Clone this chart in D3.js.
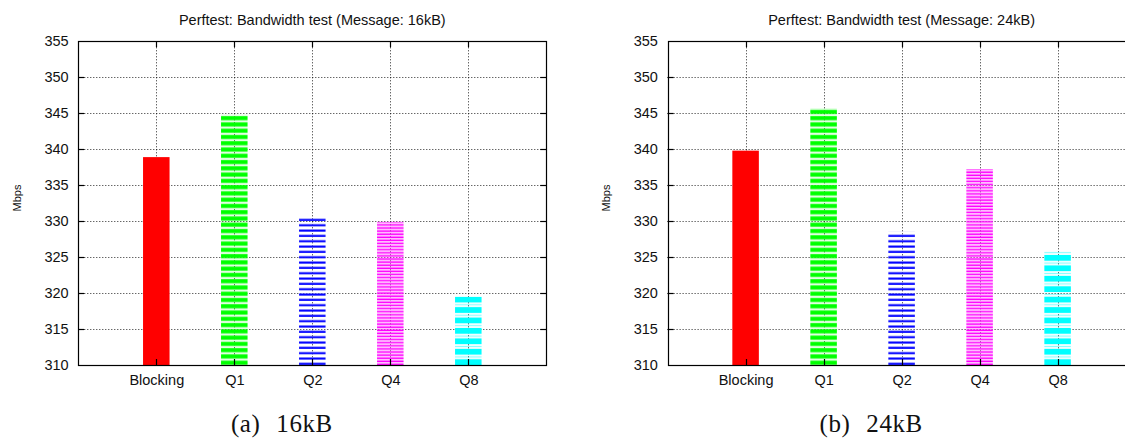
<!DOCTYPE html>
<html>
<head>
<meta charset="utf-8">
<script src="https://cdn.jsdelivr.net/npm/d3@7"></script>
<style>
  html, body { margin: 0; padding: 0; background: #fff; }
  svg { display: block; }
  .sans { font-family: "Liberation Sans", Arial, Helvetica, sans-serif; fill: #111; }
  .cap { font-family: "Liberation Serif", "Times New Roman", serif; fill: #111; }
</style>
</head>
<body>
<svg id="fig" width="1125" height="439"></svg>
<script>
// Perftest bandwidth results, Mbps per queueing mode
const categories = ["Blocking", "Q1", "Q2", "Q4", "Q8"];
const bandwidth16kB = [338.9, 344.8, 330.7, 329.9, 319.5];
const bandwidth24kB = [339.8, 345.7, 328.5, 337.2, 325.8];
const yTicks = [310, 315, 320, 325, 330, 335, 340, 345, 350, 355];
const titles = ["Perftest: Bandwidth test (Message: 16kB)", "Perftest: Bandwidth test (Message: 24kB)"];
const captions = ["(a) 16kB", "(b) 24kB"];
const yLabel = "Mbps";

const svg = d3.select("#fig");
const defs = svg.append("defs");

const plotTop = 41.3, plotBottom = 365, plotW = 468;
const fontSize = 14.5;

// Fill patterns (horizontal hatching), anchored on the x axis line
function stripePattern(id, period, layers) {
  const p = defs.append("pattern")
    .attr("id", id)
    .attr("patternUnits", "userSpaceOnUse")
    .attr("x", 0).attr("y", plotBottom)
    .attr("width", 20).attr("height", period);
  layers.forEach(l => {
    p.append("rect").attr("x", 0).attr("width", 20)
      .attr("y", l.y).attr("height", l.h)
      .attr("fill", l.c).attr("fill-opacity", l.o == null ? 1 : l.o);
  });
  return "url(#" + id + ")";
}

const fills = [
  "#ff0000",
  stripePattern("pat-q1", 6.27, [
    { y: 0, h: 6.27, c: "#00ff00", o: 0.12 },
    { y: 1.97, h: 4.0, c: "#00ff00" }
  ]),
  stripePattern("pat-q2", 5.33, [
    { y: 2.85, h: 2.48, c: "#7070ff", o: 0.7 },
    { y: 3.33, h: 1.8, c: "#0000ff" }
  ]),
  stripePattern("pat-q4", 3.1, [
    { y: 0, h: 3.1, c: "#ff66ff", o: 0.45 },
    { y: 1.9, h: 1.2, c: "#ff00ff" }
  ]),
  stripePattern("pat-q8", 10.43, [
    { y: 0, h: 10.43, c: "#00ffff", o: 0.06 },
    { y: 1.9, h: 0.9, c: "#00ffff", o: 0.45 },
    { y: 4.73, h: 5.7, c: "#00ffff" }
  ])
];

function drawChart(left, values, title, caption) {
  const g = svg.append("g");
  const x = d3.scaleLinear().domain([-1, 5]).range([left, left + plotW]);
  const y = d3.scaleLinear().domain([310, 355]).range([plotBottom, plotTop]);
  const barW = 0.34;

  // dotted grid
  const grid = g.append("g")
    .attr("stroke", "#000").attr("stroke-width", 1)
    .attr("stroke-dasharray", "1,2").attr("stroke-opacity", 0.85);
  grid.selectAll("line.h").data(yTicks.slice(1, -1)).join("line")
    .attr("x1", x(-1)).attr("x2", x(5))
    .attr("y1", d => Math.round(y(d)) + 0.5).attr("y2", d => Math.round(y(d)) + 0.5);
  grid.selectAll("line.v").data(d3.range(categories.length)).join("line")
    .attr("x1", d => Math.round(x(d)) + 0.5).attr("x2", d => Math.round(x(d)) + 0.5)
    .attr("y1", plotTop).attr("y2", plotBottom);

  // bars
  g.append("g").selectAll("rect").data(values).join("rect")
    .attr("x", (d, i) => x(i - barW / 2))
    .attr("width", x(barW) - x(0))
    .attr("y", d => y(d))
    .attr("height", d => y(310) - y(d))
    .attr("fill", (d, i) => fills[i]);

  // frame
  g.append("rect")
    .attr("x", Math.round(x(-1)) + 0.5).attr("y", Math.round(plotTop) + 0.5)
    .attr("width", plotW).attr("height", plotBottom - Math.round(plotTop))
    .attr("fill", "none").attr("stroke", "#000").attr("stroke-width", 1.2);

  // inward tick marks on all four sides
  const tk = g.append("g").attr("stroke", "#000").attr("stroke-width", 1.2);
  const tl = 6;
  tk.selectAll("line.l").data(yTicks.slice(1, -1)).join("line")
    .attr("x1", x(-1)).attr("x2", x(-1) + tl)
    .attr("y1", d => Math.round(y(d)) + 0.5).attr("y2", d => Math.round(y(d)) + 0.5);
  tk.selectAll("line.r").data(yTicks.slice(1, -1)).join("line")
    .attr("x1", x(5)).attr("x2", x(5) - tl)
    .attr("y1", d => Math.round(y(d)) + 0.5).attr("y2", d => Math.round(y(d)) + 0.5);
  tk.selectAll("line.b").data(d3.range(categories.length)).join("line")
    .attr("x1", d => Math.round(x(d)) + 0.5).attr("x2", d => Math.round(x(d)) + 0.5)
    .attr("y1", plotBottom).attr("y2", plotBottom - tl);
  tk.selectAll("line.t").data(d3.range(categories.length)).join("line")
    .attr("x1", d => Math.round(x(d)) + 0.5).attr("x2", d => Math.round(x(d)) + 0.5)
    .attr("y1", plotTop).attr("y2", plotTop + tl);

  // y tick labels
  const ya = g.append("g").attr("transform", `translate(${x(-1)},0)`)
    .call(d3.axisLeft(y).tickValues(yTicks).tickSize(0).tickPadding(9.7).tickFormat(d3.format("d")));
  ya.select(".domain").remove();
  ya.selectAll("text").attr("class", "sans").style("font-size", fontSize + "px");

  // category labels
  const xa = g.append("g").attr("transform", `translate(0,${plotBottom})`)
    .call(d3.axisBottom(x).tickValues(d3.range(categories.length)).tickSize(0).tickFormat(i => categories[i]));
  xa.select(".domain").remove();
  xa.selectAll("text").attr("class", "sans").attr("y", 20).attr("dy", null)
    .style("font-size", fontSize + "px");

  // title
  g.append("text").attr("class", "sans")
    .attr("x", x(2)).attr("y", 25).attr("text-anchor", "middle")
    .style("font-size", fontSize + "px").text(title);

  // y axis label
  g.append("text").attr("class", "sans")
    .attr("transform", `translate(${left - 57.7},198) rotate(-90)`)
    .attr("text-anchor", "middle").style("font-size", "11px").text(yLabel);

  // sub-figure caption
  g.append("text").attr("class", "cap")
    .attr("x", left + 203.6).attr("y", 432).attr("text-anchor", "middle")
    .style("font-size", "25px").style("word-spacing", "9px").style("letter-spacing", "0.6px")
    .text(caption);
}

drawChart(78.3, bandwidth16kB, titles[0], captions[0]);
drawChart(667.6, bandwidth24kB, titles[1], captions[1]);
</script>
</body>
</html>
